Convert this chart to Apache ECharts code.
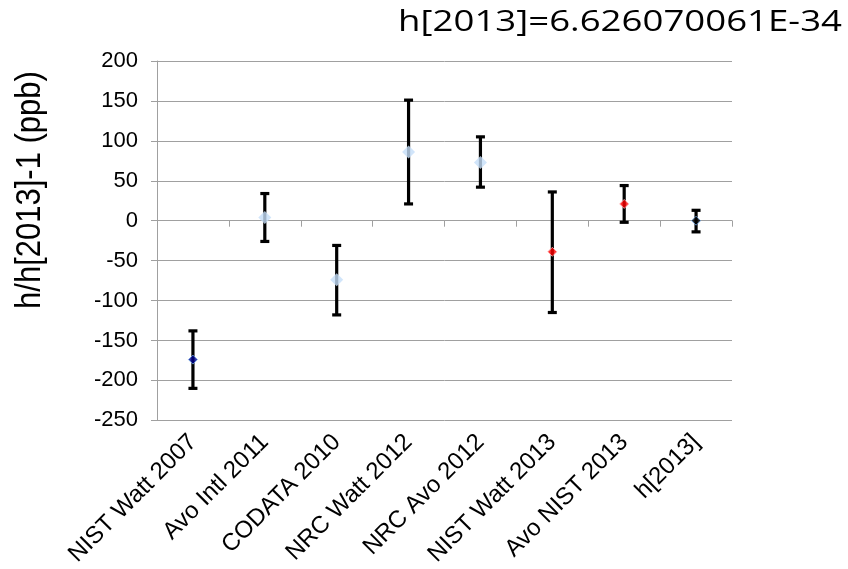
<!DOCTYPE html>
<html><head><meta charset="utf-8">
<script src="https://cdn.jsdelivr.net/npm/echarts@6/dist/echarts.min.js"></script>
<style>html,body{margin:0;padding:0;background:#fff}#c{width:848px;height:569px}</style>
</head><body><div id="c"></div>
<script>
var categories = ['NIST Watt 2007','Avo Intl 2011','CODATA 2010','NRC Watt 2012','NRC Avo 2012','NIST Watt 2013','Avo NIST 2013','h[2013]'];
var values = [-174, 4, -74, 86, 73, -39, 21, 0];
var upper = [-138, 34, -31, 151, 105, 36, 44, 13];
var lower = [-210, -26, -118, 21, 42, -115, -2, -14];
var pointColors = ['#00008b','#c5dff9','#c5dff9','#c5dff9','#c5dff9','#ff0000','#ff0000','#000000'];
var pointSizes = [9, 13, 13, 13, 13, 9, 9, 9];
var yTicks = [-250, 200, 50];
var titleText = 'h[2013]=6.626070061E-34';
var yTitle = 'h/h[2013]-1 (ppb)';

var chart = echarts.init(document.getElementById('c'));
var errData = categories.map(function(c, i){ return [i, lower[i], upper[i]]; });
var ptData = categories.map(function(c, i){
  return {value:[i, values[i]], symbolSize: pointSizes[i],
    itemStyle:{color: pointColors[i], borderColor: i===0||i===7 ? '#6fa8e8' : (i>=5 ? '#ffb0b0' : pointColors[i]), borderWidth: (i===0||i>=5)?1:0}};
});
chart.setOption({
  animation:false,
  graphic:[
    {type:'text', x:842, y:22, scaleX:1.22,
     style:{text:titleText, textAlign:'right', textVerticalAlign:'middle', fontFamily:'Open Sans', fontSize:30, fill:'#000'}},
    {type:'text', x:30, y:190, rotation:Math.PI/2, scaleY:1.15,
     style:{text:yTitle, textAlign:'center', textVerticalAlign:'middle', fontFamily:'Liberation Sans', fontSize:31, fill:'#000'}}
  ],
  grid:{left:157, right:116, top:61, bottom:147},
  xAxis:{type:'category', data:categories, boundaryGap:true,
    axisLine:{lineStyle:{color:'#a0a0a0', width:1}},
    axisTick:{show:true, length:6, lineStyle:{color:'#a0a0a0'}},
    axisLabel:{rotate:45, interval:0, fontFamily:'Liberation Sans', fontSize:24, color:'#000', margin:18},
    splitLine:{show:false}},
  yAxis:{type:'value', min:yTicks[0], max:yTicks[1], interval:yTicks[2],
    axisLine:{show:true, lineStyle:{color:'#a0a0a0'}},
    axisTick:{show:true, length:6, lineStyle:{color:'#a0a0a0'}},
    axisLabel:{fontFamily:'Liberation Sans', fontSize:22, color:'#000', margin:19},
    splitLine:{lineStyle:{color:'#a0a0a0', width:1}}},
  series:[
    {type:'custom', data:errData, z:2,
     renderItem:function(params, api){
       var x = api.value(0);
       var lo = api.coord([x, api.value(1)]);
       var hi = api.coord([x, api.value(2)]);
       var hw = 4.5;
       var st = {stroke:'#000', lineWidth:3.2};
       return {type:'group', children:[
         {type:'line', shape:{x1:lo[0], y1:lo[1], x2:hi[0], y2:hi[1]}, style:st},
         {type:'line', shape:{x1:lo[0]-hw, y1:lo[1], x2:lo[0]+hw, y2:lo[1]}, style:st},
         {type:'line', shape:{x1:hi[0]-hw, y1:hi[1], x2:hi[0]+hw, y2:hi[1]}, style:st}
       ]};
     }},
    {type:'scatter', data:ptData, symbol:'diamond', z:3}
  ]
});
</script></body></html>
